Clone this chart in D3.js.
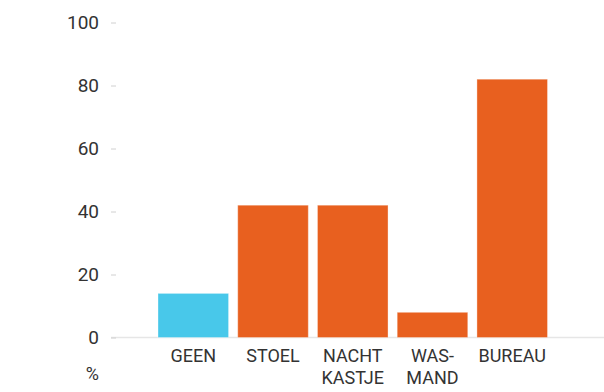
<!DOCTYPE html>
<html>
<head>
<meta charset="utf-8">
<script src="https://cdn.jsdelivr.net/npm/d3@7"></script>
<style>
  html, body { margin: 0; padding: 0; background: #fff; }
  svg text { font-family: Roboto, "Noto Sans", sans-serif; fill: #333; }
</style>
</head>
<body>
<svg id="chart" width="604" height="392"></svg>
<script>
// Categories (label lines) and percentages
const categories = [["GEEN"], ["STOEL"], ["NACHT", "KASTJE"], ["WAS-", "MAND"], ["BUREAU"]];
const values = [14, 42, 42, 8, 82];
const colors = ["#48c8ea", "#e8601f", "#e8601f", "#e8601f", "#e8601f"];
const yTicks = [0, 20, 40, 60, 80, 100];
const unitLabel = "%";

const svg = d3.select("#chart");
const keys = categories.map(c => c.join(" "));

const x = d3.scaleBand().domain(keys).range([158, 547.5]).paddingInner(0.115).paddingOuter(0);
const y = d3.scaleLinear().domain([0, 100]).range([337.5, 22.5]);

// baseline
svg.append("line")
  .attr("x1", 111).attr("x2", 604)
  .attr("y1", y(0)).attr("y2", y(0))
  .attr("stroke", "#e6e6e6").attr("stroke-width", 1.5);

// y axis: short ticks and labels
const yAxis = d3.axisLeft(y).tickValues(yTicks).tickSize(5).tickPadding(12);
const gy = svg.append("g").attr("transform", "translate(116,0)").call(yAxis);
gy.select(".domain").remove();
gy.selectAll(".tick line").attr("stroke", "#d0d0d0");
gy.selectAll(".tick text").attr("font-size", 19).attr("fill", "#333")
  .style("font-family", "Roboto, sans-serif");

// unit label under the axis
svg.append("text").attr("x", 99).attr("y", 380)
  .attr("text-anchor", "end").attr("font-size", 18).text(unitLabel);

// bars
svg.append("g").selectAll("rect")
  .data(values)
  .join("rect")
  .attr("x", (d, i) => x(keys[i]))
  .attr("width", x.bandwidth())
  .attr("y", d => y(d))
  .attr("height", d => y(0) - y(d))
  .attr("fill", (d, i) => colors[i])
  .attr("stroke", "rgba(255,255,255,0.35)")
  .attr("stroke-width", 1);

// category labels
const lab = svg.append("g").selectAll("text")
  .data(categories)
  .join("text")
  .attr("text-anchor", "middle")
  .attr("font-size", 18)
  .attr("x", (d, i) => x(keys[i]) + x.bandwidth() / 2)
  .attr("y", 362);
lab.selectAll("tspan")
  .data(d => d)
  .join("tspan")
  .attr("x", function () { return d3.select(this.parentNode).attr("x"); })
  .attr("dy", (d, i) => i === 0 ? 0 : 22)
  .text(d => d);
</script>
</body>
</html>
